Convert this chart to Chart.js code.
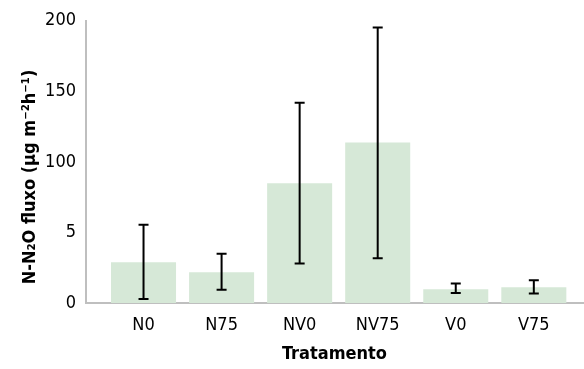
<!DOCTYPE html>
<html>
<head>
<meta charset="utf-8">
<script src="https://cdn.jsdelivr.net/npm/chart.js@4"></script>
<style>
  html, body { margin: 0; padding: 0; background: #fff; }
  #wrap { width: 584px; height: 369px; }
</style>
</head>
<body>
<div id="wrap"><canvas id="canvas1"></canvas></div>
<script>
// dados
var tratamentos = ['N0', 'N75', 'NV0', 'NV75', 'V0', 'V75'];
var fluxo = [28.8, 21.8, 84.9, 113.7, 9.8, 11.2];
var erroSup = [55.4, 34.9, 142, 195.3, 13.8, 16.1];
var erroInf = [2.8, 9.4, 28, 31.8, 7.0, 6.8];
var yTicks = [0, 50, 100, 150, 200];
var yTickLabels = ['0', '5', '100', '150', '200'];
var yTitulo = 'N-N\u2082O fluxo (\u03bcg m\u207b\u00b2h\u207b\u00b9)';

var fonte = "'DejaVu Sans Condensed', 'Liberation Sans Narrow', sans-serif";

// barras de erro + titulo do eixo y
var extras = {
    id: 'extras',
    afterDatasetsDraw: function (chart) {
        var ctx = chart.ctx;
        var x = chart.scales.x, y = chart.scales.y;
        ctx.save();
        ctx.strokeStyle = '#000';
        ctx.lineWidth = 2;
        fluxo.forEach(function (v, i) {
            var px = x.getPixelForValue(i);
            var top = y.getPixelForValue(erroSup[i]);
            var bot = y.getPixelForValue(erroInf[i]);
            ctx.beginPath();
            ctx.moveTo(px, top); ctx.lineTo(px, bot);
            ctx.moveTo(px - 5, top); ctx.lineTo(px + 5, top);
            ctx.moveTo(px - 5, bot); ctx.lineTo(px + 5, bot);
            ctx.stroke();
        });
        ctx.translate(30, 177);
        ctx.rotate(-Math.PI / 2);
        ctx.fillStyle = '#000';
        ctx.font = 'bold 18px ' + fonte;
        ctx.textAlign = 'center';
        ctx.textBaseline = 'middle';
        ctx.fillText(yTitulo, 0, 0);
        ctx.restore();
    }
};

var ctx = document.getElementById('canvas1').getContext('2d');
var chart = new Chart(ctx, {
    type: 'bar',
    data: {
        datasets: [{
            label: 'fluxo',
            data: fluxo.map(function (v, i) { return { x: i, y: v }; }),
            backgroundColor: 'rgb(214,232,215)',
            barPercentage: 0.833,
            categoryPercentage: 1
        }]
    },
    options: {
        responsive: true,
        maintainAspectRatio: false,
        animation: false,
        layout: { padding: { top: 18, right: 1, left: 0, bottom: 0 } },
        plugins: { legend: { display: false }, tooltip: { enabled: false } },
        scales: {
            x: {
                type: 'linear',
                offset: false,
                min: -0.737,
                max: 5.63,
                afterBuildTicks: function (s) { s.ticks = tratamentos.map(function (t, i) { return { value: i }; }); },
                afterFit: function (s) { s.height = 66; },
                grid: { display: false, drawTicks: false },
                border: { color: '#bfbfbf', width: 2 },
                ticks: {
                    padding: 12,
                    color: '#000',
                    font: { family: fonte, size: 18 },
                    callback: function (v) { return tratamentos[v]; }
                },
                title: {
                    display: true,
                    text: 'Tratamento',
                    color: '#000',
                    font: { family: fonte, size: 18, weight: 'bold' },
                    padding: { top: 6 }
                }
            },
            y: {
                min: 0,
                max: 200,
                afterBuildTicks: function (s) { s.ticks = yTicks.map(function (v) { return { value: v }; }); },
                afterFit: function (s) { s.width = 86; },
                grid: { display: false, drawTicks: false },
                border: { color: '#bfbfbf', width: 2 },
                ticks: {
                    padding: 10,
                    color: '#000',
                    font: { family: fonte, size: 18 },
                    callback: function (v) { return yTickLabels[yTicks.indexOf(v)]; }
                },
                title: { display: false }
            }
        }
    },
    plugins: [extras]
});
</script>
</body>
</html>
